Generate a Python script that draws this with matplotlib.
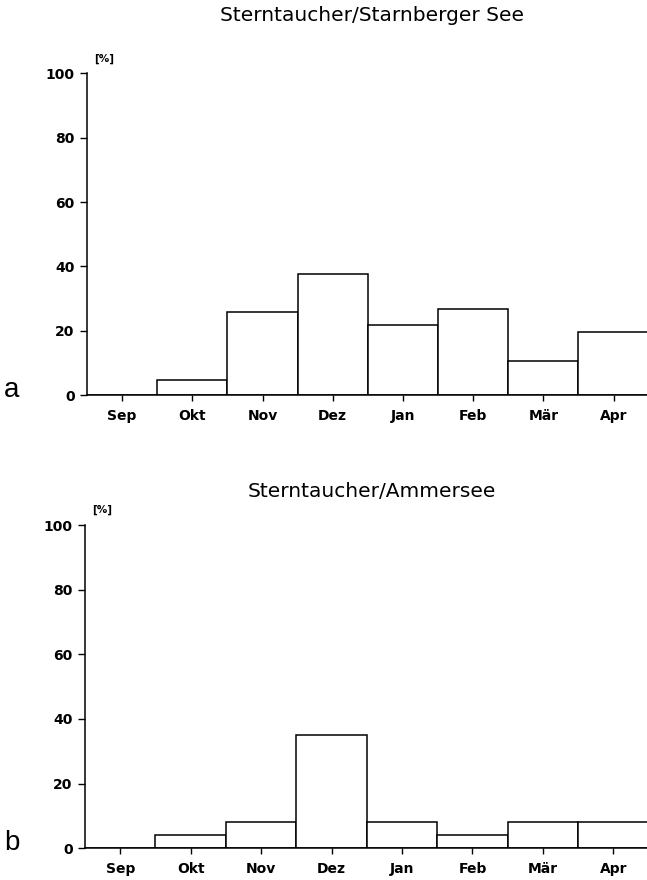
import matplotlib.pyplot as plt

plt.rcParams['font.family'] = ['DejaVu Sans']

months = ['Sep', 'Okt', 'Nov', 'Dez', 'Jan', 'Feb', 'Mär', 'Apr']
starnberg = [0, 4.7, 25.8, 37.6, 21.8, 26.7, 10.6, 19.6]
ammersee = [0, 4, 8, 35, 8, 4, 8, 8]
yticks = [0, 20, 40, 60, 80, 100]

fig = plt.figure(figsize=(6.47, 8.8), dpi=100)

panels = [
    ('Sterntaucher/Starnberger See', starnberg, 'a', [0.1345, 0.5511, 0.868, 0.3655], 0.982),
    ('Sterntaucher/Ammersee', ammersee, 'b', [0.1314, 0.0360, 0.871, 0.3674], 0.441),
]

for title, values, letter, rect, title_y in panels:
    ax = fig.add_axes(rect)
    x = range(len(months))
    ax.bar([i + 0.5 for i in x], values, width=1.0, color='white',
           edgecolor='black', linewidth=1.1)
    ax.set_xlim(0, len(months))
    ax.set_ylim(0, 100)
    ax.set_xticks([i + 0.5 for i in x])
    ax.set_xticklabels(months, fontsize=10, fontweight='bold')
    ax.set_yticks(yticks)
    ax.set_yticklabels([str(t) for t in yticks], fontsize=10, fontweight='bold')
    ax.tick_params(axis='x', length=4, width=1, pad=6, direction='out')
    ax.tick_params(axis='y', length=5, width=1, pad=4, direction='out')
    for side in ('top', 'right'):
        ax.spines[side].set_visible(False)
    for side in ('left', 'bottom'):
        ax.spines[side].set_linewidth(1.1)
    ax.text(0.012, 1.03, '[%]', transform=ax.transAxes, fontsize=7.5,
            fontweight='bold', ha='left', va='bottom')
    fig.text(0.575, title_y, title, fontsize=14.5, ha='center', va='center')
    fig.text(0.006, rect[1] + 0.006, letter, fontsize=20,
             family='Liberation Sans', ha='left', va='center')

fig.savefig('out.png', dpi=100)
